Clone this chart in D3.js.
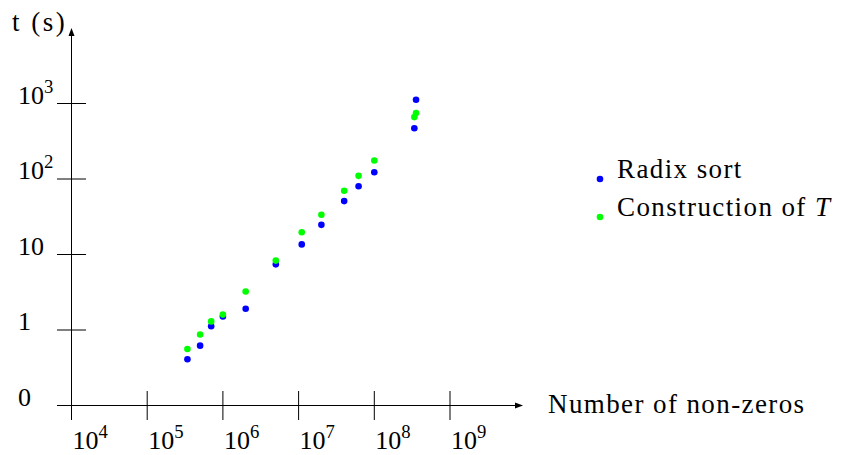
<!DOCTYPE html>
<html>
<head>
<meta charset="utf-8">
<script src="https://cdn.jsdelivr.net/npm/d3@7/dist/d3.min.js"></script>
<style>
    body { margin: 0; background: #fff; }
    text { font-family: "Liberation Serif", "DejaVu Serif", serif; fill: #000; }
</style>
</head>
<body>
<svg id="svg" width="845" height="455"></svg>
<script>
// values
let nonZeros = [3.4e5, 5.0e5, 7.0e5, 1.0e6, 2.0e6, 5.0e6, 1.1e7, 2.0e7, 4.0e7, 6.2e7, 1.0e8, 3.56e8, 3.38e8];
let radixSort = [0.41, 0.62, 1.12, 1.51, 1.91, 7.4, 13.6, 24.7, 51, 80, 123, 1120, 470];
let construction = [0.56, 0.87, 1.30, 1.60, 3.24, 8.3, 19.7, 33.6, 70, 110, 176, 750, 660];

let seriesNames = ['Radix sort', 'Construction of '];
let seriesColors = ['#0000ff', '#00ff00'];

let xTicks = [1e4, 1e5, 1e6, 1e7, 1e8, 1e9];
let xTickLabels = [['10', '4'], ['10', '5'], ['10', '6'], ['10', '7'], ['10', '8'], ['10', '9']];
let yTicks = [0.1, 1, 10, 100, 1000];
let yTickLabels = [['0', ''], ['1', ''], ['10', ''], ['10', '2'], ['10', '3']];

let xLabel = 'Number of non-zeros';
let yLabel = 't (s)';

const svg = d3.select('#svg');
const fontSize = 26;
const labelSize = 27;
const spacing = '1.4px';

let x = d3.scaleLog().domain([1e4, 1e9]).range([71.5, 450]);
let y = d3.scaleLog().domain([0.1, 1000]).range([405.5, 103.5]);

let x0 = x.range()[0];
let y0 = y.range()[0];
let tick = 14.5;

function drawAxes() {
    let g = svg.append('g').attr('stroke', '#000').attr('stroke-width', 1);
    // x axis line + arrow
    let xEnd = 523;
    g.append('line').attr('x1', x0 - tick).attr('x2', xEnd - 5)
        .attr('y1', y0).attr('y2', y0);
    svg.append('path')
        .attr('d', `M${xEnd},${y0} L${xEnd - 8},${y0 - 3} L${xEnd - 8},${y0 + 3} Z`)
        .attr('fill', '#000');
    // y axis line + arrow
    let yEnd = 28;
    g.append('line').attr('x1', x0).attr('x2', x0)
        .attr('y1', y0 + tick).attr('y2', yEnd + 5);
    svg.append('path')
        .attr('d', `M${x0},${yEnd} L${x0 - 3},${yEnd + 8} L${x0 + 3},${yEnd + 8} Z`)
        .attr('fill', '#000');

    g.selectAll('.xtick').data(xTicks).enter().append('line')
        .attr('x1', d => x(d)).attr('x2', d => x(d))
        .attr('y1', y0 - tick).attr('y2', y0 + tick);
    g.selectAll('.ytick').data(yTicks).enter().append('line')
        .attr('x1', x0 - tick).attr('x2', x0 + tick)
        .attr('y1', d => y(d)).attr('y2', d => y(d));

    let xt = svg.selectAll('.xlab').data(xTicks).enter().append('text')
        .attr('x', d => x(d) + 1)
        .attr('y', y0 + 43)
        .style('font-size', fontSize + 'px');
    addPower(xt, (d, i) => xTickLabels[i]);

    let yt = svg.selectAll('.ylab').data(yTicks).enter().append('text')
        .attr('x', 18)
        .attr('y', d => y(d))
        .style('font-size', fontSize + 'px');
    addPower(yt, (d, i) => yTickLabels[i]);

    svg.append('text').attr('x', 548).attr('y', 413)
        .style('font-size', labelSize + 'px').style('letter-spacing', spacing)
        .text(xLabel);
    svg.append('text').attr('x', 12).attr('y', 31)
        .style('font-size', labelSize + 'px').style('letter-spacing', '2.5px')
        .text(yLabel);
}

function addPower(sel, getLabel) {
    sel.each(function(d, i) {
        let parts = getLabel(d, i);
        let t = d3.select(this);
        t.append('tspan').text(parts[0]);
        if (parts[1] != '') {
            t.append('tspan').attr('dy', -11)
                .style('font-size', (fontSize * 0.72) + 'px')
                .text(parts[1]);
        }
    });
}

function drawPoints() {
    let all = [radixSort, construction];
    for (let s = 0; s < all.length; s++) {
        svg.selectAll('.s' + s).data(all[s]).enter().append('circle')
            .attr('cx', (d, i) => x(nonZeros[i]))
            .attr('cy', d => y(d))
            .attr('r', 3.3)
            .style('fill', seriesColors[s]);
    }
}

function drawLegend() {
    let legY = [179, 217];
    for (let s = 0; s < seriesNames.length; s++) {
        svg.append('circle').attr('cx', 600).attr('cy', legY[s])
            .attr('r', 3.3).style('fill', seriesColors[s]);
        let t = svg.append('text').attr('x', 617).attr('y', legY[s] - 1)
            .style('font-size', labelSize + 'px').style('letter-spacing', spacing)
            .text(seriesNames[s]);
        if (s == 1) {
            t.append('tspan').style('font-style', 'italic').text('T');
        }
    }
}

drawAxes();
drawPoints();
drawLegend();
</script>
</body>
</html>
